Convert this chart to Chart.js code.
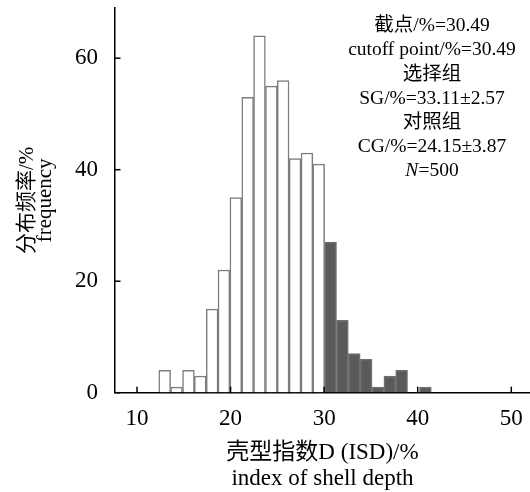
<!DOCTYPE html>
<html><head><meta charset="utf-8">
<script src="https://cdn.jsdelivr.net/npm/chart.js@4/dist/chart.umd.min.js"></script>
<style>html,body{margin:0;padding:0;background:#fff;}#wrap{width:530px;height:492px;position:relative;}</style>
</head><body><div id="wrap"><canvas id="c"></canvas></div>
<script>
// bin centres of the ISD histogram (%)
const binCenters = [12.96, 14.23, 15.50, 16.76, 18.03, 19.29, 20.56, 21.83, 23.09, 24.36, 25.62, 26.89,
                    28.16, 29.42, 30.69, 31.95, 33.22, 34.49, 35.75, 37.02, 38.28, 39.55, 40.82];
// counts per bin (N = 500)
const counts = [4, 1, 4, 3, 15, 22, 35, 53, 64, 55, 56, 42, 43, 41, 27, 13, 7, 6, 1, 3, 4, 0, 1];
const cutoff = 30.49;
const xRange = [7.65, 52];
const yRange = [0, 69];
const xTickStep = 10;
const yTickStep = 20;
const xTitle = ['壳型指数D (ISD)/%', 'index of shell depth'];
const yTitle = ['分布频率/%', 'frequency'];
const noteLines = ['截点/%=30.49', 'cutoff point/%=30.49', '选择组', 'SG/%=33.11±2.57', '对照组', 'CG/%=24.15±3.87', '*N*=500'];

const SERIF = "'Liberation Serif', 'Times New Roman', 'Noto Sans CJK SC', serif";

const points = binCenters.map((x, i) => ({x: x, y: counts[i]}));

const inwardTicks = {
  id: 'inwardTicks',
  afterDraw(chart) {
    const ctx = chart.ctx, xs = chart.scales.x, ys = chart.scales.y, a = chart.chartArea;
    ctx.save();
    ctx.strokeStyle = '#000';
    ctx.lineWidth = 1.5;
    xs.ticks.forEach(t => {
      const px = xs.getPixelForValue(t.value);
      ctx.beginPath(); ctx.moveTo(px, a.bottom); ctx.lineTo(px, a.bottom - 6); ctx.stroke();
    });
    ys.ticks.forEach(t => {
      const py = ys.getPixelForValue(t.value);
      ctx.beginPath(); ctx.moveTo(a.left, py); ctx.lineTo(a.left + 5.5, py); ctx.stroke();
    });
    ctx.restore();
  }
};

const notes = {
  id: 'notes',
  afterDraw(chart) {
    const ctx = chart.ctx;
    const cx = 432, y0 = 26, dy = 24.2, size = 19.5;
    ctx.save();
    ctx.fillStyle = '#000';
    ctx.textBaseline = 'middle';
    noteLines.forEach((line, i) => {
      const y = y0 + i * dy;
      const parts = [];
      const re = /\*([^*]+)\*/g;
      let last = 0, m;
      while ((m = re.exec(line)) !== null) {
        if (m.index > last) parts.push({t: line.slice(last, m.index), it: false});
        parts.push({t: m[1], it: true});
        last = re.lastIndex;
      }
      if (last < line.length) parts.push({t: line.slice(last), it: false});
      let w = 0;
      parts.forEach(p => { ctx.font = (p.it ? 'italic ' : '') + size + 'px ' + SERIF; p.w = ctx.measureText(p.t).width; w += p.w; });
      let x = cx - w / 2;
      ctx.textAlign = 'left';
      parts.forEach(p => { ctx.font = (p.it ? 'italic ' : '') + size + 'px ' + SERIF; ctx.fillText(p.t, x, y); x += p.w; });
    });
    ctx.restore();
  }
};

function noPad(s) { s.paddingTop = 0; s.paddingBottom = 0; s.paddingLeft = 0; s.paddingRight = 0; }

new Chart(document.getElementById('c'), {
  type: 'bar',
  data: {
    datasets: [{
      data: points,
      backgroundColor: c => (binCenters[c.dataIndex] > cutoff ? '#5a5a5a' : '#ffffff'),
      borderColor: c => (binCenters[c.dataIndex] > cutoff ? '#707070' : '#7d7d7d'),
      borderWidth: 1.5,
      barPercentage: 1,
      categoryPercentage: 1
    }]
  },
  options: {
    responsive: true,
    maintainAspectRatio: false,
    animation: false,
    layout: {padding: {top: 8, right: 0, left: 0, bottom: 0}},
    plugins: {legend: {display: false}, tooltip: {enabled: false}},
    scales: {
      x: {
        type: 'linear',
        min: xRange[0], max: xRange[1],
        offset: false,
        grid: {display: true, drawOnChartArea: false, drawTicks: false},
        border: {display: true, color: '#000', width: 1.5},
        ticks: {stepSize: xTickStep, includeBounds: false, padding: 12, color: '#000', maxRotation: 0, autoSkip: false,
                font: {family: SERIF, size: 23}},
        title: {display: true, text: xTitle, color: '#000', font: {family: SERIF, size: 23, lineHeight: 1.13},
                padding: {top: 0, bottom: 0}},
        afterFit(s) { s.height = 99.3; noPad(s); }
      },
      y: {
        min: yRange[0], max: yRange[1],
        grid: {display: true, drawOnChartArea: false, drawTicks: false},
        border: {display: true, color: '#000', width: 1.5},
        ticks: {stepSize: yTickStep, includeBounds: false, padding: 17, color: '#000',
                font: {family: SERIF, size: 23}},
        title: {display: true, text: yTitle, color: '#000', font: {family: SERIF, size: 21, lineHeight: 0.86},
                padding: {top: 18, bottom: 0}},
        afterFit(s) { s.width = 115; noPad(s); }
      }
    }
  },
  plugins: [inwardTicks, notes]
});
</script></body></html>
